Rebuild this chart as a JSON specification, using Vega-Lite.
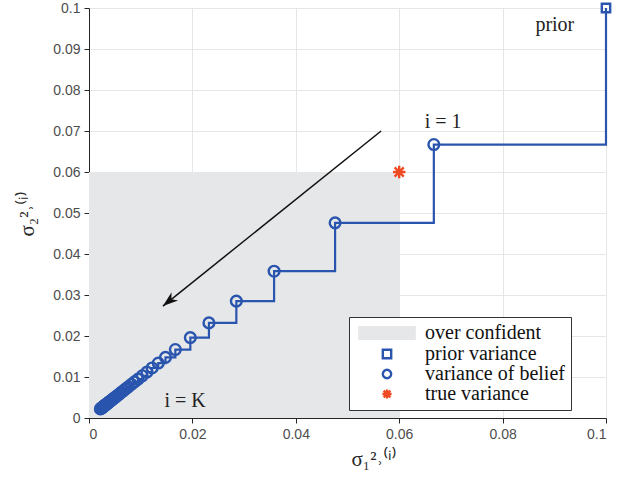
{
  "$schema": "https://vega.github.io/schema/vega-lite/v6.json",
  "width": 517,
  "height": 410,
  "autosize": {"type": "none"},
  "padding": {"left": 89, "top": 8, "right": 37, "bottom": 60},
  "background": "white",
  "config": {
    "view": {"stroke": null},
    "axis": {
      "labelFont": "Liberation Sans",
      "labelFontSize": 14,
      "labelColor": "#4d4d4d",
      "domainColor": "#262626",
      "tickColor": "#262626",
      "gridColor": "#e6e6e6",
      "titleFont": "Liberation Serif",
      "titleFontSize": 21,
      "titleFontWeight": "normal",
      "titleColor": "#262626"
    }
  },
  "datasets": {
    "belief": [
      {"v": 0.1}, {"v": 0.0667}, {"v": 0.0476}, {"v": 0.0358}, {"v": 0.0285}, {"v": 0.0232},
      {"v": 0.0196}, {"v": 0.0167}, {"v": 0.0148}, {"v": 0.0134}, {"v": 0.0122}, {"v": 0.0112},
      {"v": 0.0103}, {"v": 0.0095}, {"v": 0.0088}, {"v": 0.0082}, {"v": 0.0076}, {"v": 0.0071},
      {"v": 0.0067}, {"v": 0.0063}, {"v": 0.0059}, {"v": 0.0056}, {"v": 0.0053}, {"v": 0.0050},
      {"v": 0.0047}, {"v": 0.0045}, {"v": 0.0043}, {"v": 0.0041}, {"v": 0.0039}, {"v": 0.0037},
      {"v": 0.0036}, {"v": 0.0034}, {"v": 0.0033}, {"v": 0.0032}, {"v": 0.0031}, {"v": 0.0030},
      {"v": 0.0029}, {"v": 0.0028}, {"v": 0.0027}, {"v": 0.0026}, {"v": 0.0025}, {"v": 0.0024},
      {"v": 0.0023}, {"v": 0.0022}
    ]
  },
  "layer": [
    {
      "data": {"values": [{"x": 0, "x2": 0.06, "y": 0, "y2": 0.06, "series": "over confident"}]},
      "mark": {"type": "rect"},
      "encoding": {
        "x": {"field": "x", "type": "quantitative", "scale": {"domain": [0, 0.1], "nice": false},
          "axis": {"values": [0, 0.02, 0.04, 0.06, 0.08, 0.1], "format": "~g", "tickSize": 5, "labelPadding": 4, "title": "σ₁²˒⁽ⁱ⁾", "titleY": 30, "titleX": 285}},
        "x2": {"field": "x2"},
        "y": {"field": "y", "type": "quantitative", "scale": {"domain": [0, 0.1], "nice": false},
          "axis": {"values": [0, 0.01, 0.02, 0.03, 0.04, 0.05, 0.06, 0.07, 0.08, 0.09, 0.1], "format": "~g", "tickSize": 5, "labelPadding": 4, "title": "σ₂²˒⁽ⁱ⁾", "titleX": -52, "titleY": 205}},
        "y2": {"field": "y2"},
        "fill": {"field": "series", "type": "nominal",
          "scale": {"domain": ["over confident", "prior variance", "variance of belief", "true variance"],
                    "range": ["#e6e7e9", "transparent", "transparent", "transparent"]},
          "legend": {"title": null}}
      }
    },
    {
      "data": {"name": "belief"},
      "mark": {"type": "line", "interpolate": "step-after", "color": "#2a55ae", "strokeWidth": 2.2},
      "encoding": {
        "x": {"field": "v", "type": "quantitative"},
        "y": {"field": "v", "type": "quantitative"}
      }
    },
    {
      "data": {"name": "belief"},
      "transform": [{"filter": "datum.v < 0.09"}, {"calculate": "'variance of belief'", "as": "series"}],
      "mark": {"type": "point", "strokeWidth": 2.4, "size": 115, "opacity": 1},
      "encoding": {
        "x": {"field": "v", "type": "quantitative"},
        "y": {"field": "v", "type": "quantitative"},
        "fill": {"field": "series", "type": "nominal", "legend": {"title": null}},
        "stroke": {"field": "series", "type": "nominal",
          "scale": {"domain": ["over confident", "prior variance", "variance of belief", "true variance"],
                    "range": ["#e6e7e9", "#2a55ae", "#2a55ae", "#f04a23"]},
          "legend": {"title": null}},
        "shape": {"field": "series", "type": "nominal",
          "scale": {"domain": ["over confident", "prior variance", "variance of belief", "true variance"],
                    "range": ["M-6.6,-1.4H6.6V1.4H-6.6Z", "square", "circle", "M0,-1.1L0,1.1M-1.1,0L1.1,0M-0.8,-0.8L0.8,0.8M-0.8,0.8L0.8,-0.8"]},
          "legend": {"title": null}}
      }
    },
    {
      "data": {"values": [{"x": 0.1, "y": 0.1, "series": "prior variance"}]},
      "mark": {"type": "point", "strokeWidth": 2.4, "size": 70, "opacity": 1},
      "encoding": {
        "x": {"field": "x", "type": "quantitative"},
        "y": {"field": "y", "type": "quantitative"},
        "fill": {"field": "series", "type": "nominal", "legend": {"title": null}},
        "stroke": {"field": "series", "type": "nominal", "legend": {"title": null}},
        "shape": {"field": "series", "type": "nominal", "legend": {"title": null}}
      }
    },
    {
      "data": {"values": [{"x": 0.06, "y": 0.06, "series": "true variance"}]},
      "mark": {"type": "point", "strokeWidth": 2.4, "size": 130, "opacity": 1},
      "encoding": {
        "x": {"field": "x", "type": "quantitative"},
        "y": {"field": "y", "type": "quantitative"},
        "fill": {"field": "series", "type": "nominal", "legend": {"title": null}},
        "stroke": {"field": "series", "type": "nominal", "legend": {"title": null}},
        "shape": {"field": "series", "type": "nominal",
          "legend": {"title": null, "orient": "none", "legendX": 260, "legendY": 309,
            "labelFont": "Liberation Serif", "labelFontSize": 20, "labelColor": "#111111",
            "symbolSize": 70, "symbolStrokeWidth": 2.4, "symbolOffset": 22, "labelOffset": 28, "rowPadding": -5,
            "padding": 6, "strokeColor": "#333333", "fillColor": "white", "offset": 0}}
      }
    },
    {
      "data": {"values": [{"x": 0.0565, "y": 0.070, "x2": 0.0143, "y2": 0.0273}]},
      "mark": {"type": "rule", "color": "#111111", "strokeWidth": 1.5},
      "encoding": {
        "x": {"field": "x", "type": "quantitative"},
        "y": {"field": "y", "type": "quantitative"},
        "x2": {"field": "x2"},
        "y2": {"field": "y2"}
      }
    },
    {
      "data": {"values": [{"x": 0.0143, "y": 0.0273}]},
      "mark": {"type": "point", "shape": "M0,0L0.65,1.9L0,1.35L-0.65,1.9Z", "filled": true, "color": "#111111", "size": 260, "angle": 231, "opacity": 1},
      "encoding": {
        "x": {"field": "x", "type": "quantitative"},
        "y": {"field": "y", "type": "quantitative"}
      }
    },
    {
      "data": {"values": [
        {"x": 0.0901, "y": 0.0959, "t": "prior", "s": "normal"},
        {"x": 0.0685, "y": 0.0722, "t": "i = 1", "s": "italic"},
        {"x": 0.0186, "y": 0.0041, "t": "i = K", "s": "italic"}
      ]},
      "mark": {"type": "text", "font": "Liberation Serif", "fontSize": 20, "color": "#222222"},
      "encoding": {
        "x": {"field": "x", "type": "quantitative"},
        "y": {"field": "y", "type": "quantitative"},
        "text": {"field": "t"},
        "fontStyle": {"field": "s", "type": "nominal", "scale": null}
      }
    }
  ]
}
